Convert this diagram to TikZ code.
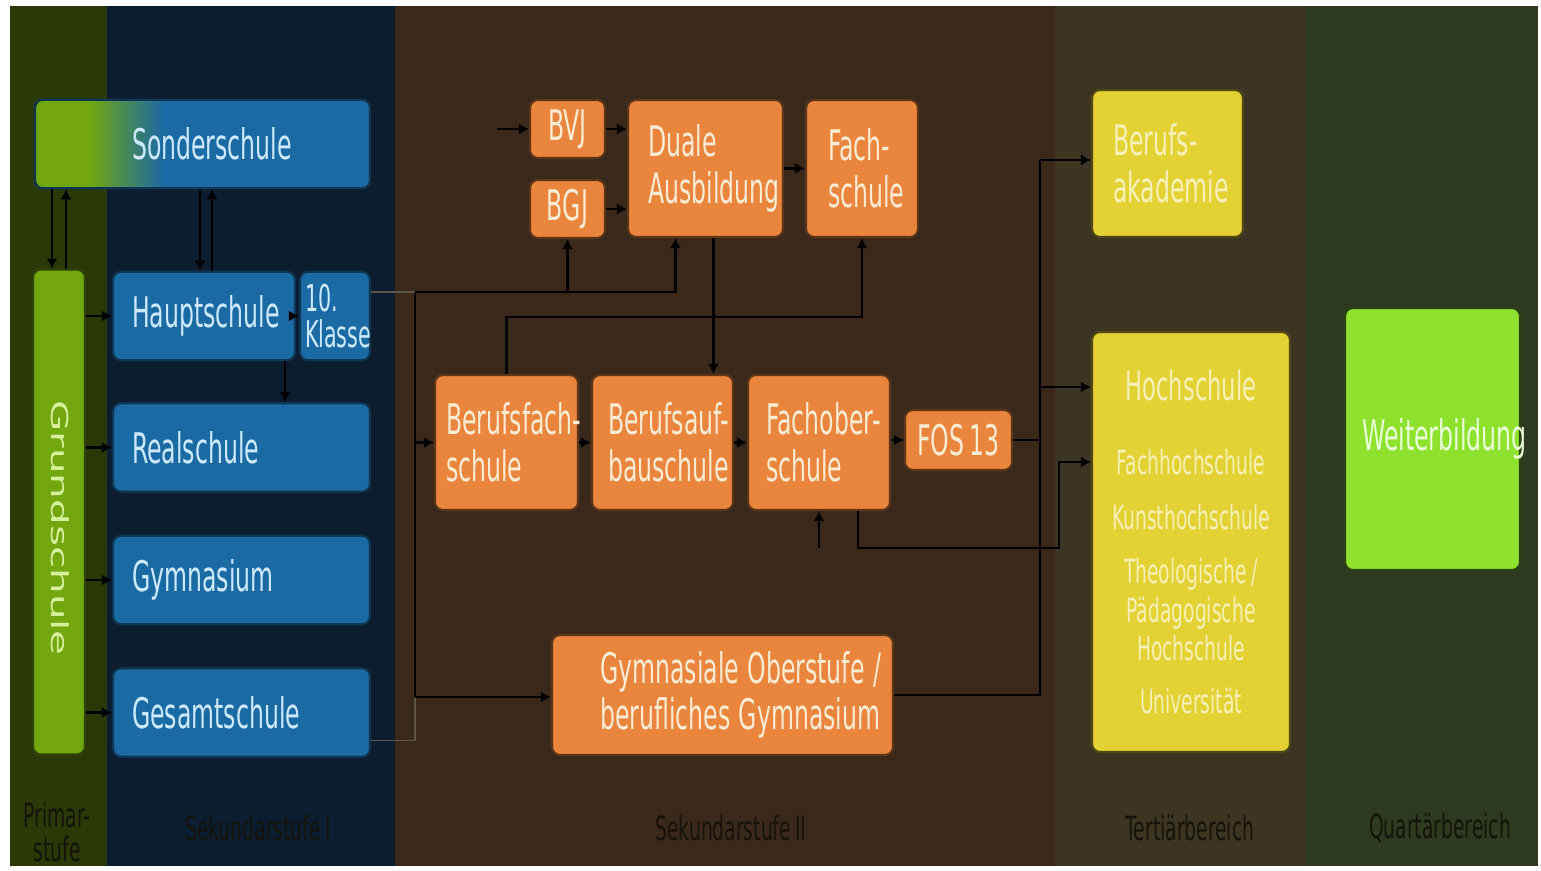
\documentclass[tikz,border=0pt]{standalone}
\usepackage{fontspec}
\setmainfont{DejaVu Sans}[FakeStretch=0.56, WordSpace=0.75]
\newfontfamily\widefont{DejaVu Sans}
\usepackage{graphicx}
\usepackage{tikz}
\usetikzlibrary{arrows.meta,positioning,calc}
\hyphenpenalty=10000
\exhyphenpenalty=10000
\definecolor{PrimBg}{HTML}{2A3906}
\definecolor{SekIBg}{HTML}{0B1D2E}
\definecolor{SekIIBg}{HTML}{3A291B}
\definecolor{TertBg}{HTML}{3C3521}
\definecolor{QuartBg}{HTML}{2E3A1F}
\definecolor{SchoolBlue}{HTML}{1C6AA3}
\definecolor{SchoolText}{HTML}{CDE9FF}
\definecolor{VocOrange}{HTML}{E9853C}
\definecolor{VocText}{HTML}{FDEBD2}
\definecolor{UniYellow}{HTML}{E4D133}
\definecolor{UniText}{HTML}{F7F0B8}
\definecolor{GrundGreen}{HTML}{72A70F}
\definecolor{GrundText}{HTML}{D8F09C}
\definecolor{FurtherGreen}{HTML}{8EE22E}
\definecolor{FurtherText}{HTML}{E9FFD8}
\definecolor{BandText}{HTML}{15130C}
\definecolor{FaintLine}{HTML}{5E5448}
\pgfdeclarehorizontalshading{sonderfade}{100bp}{color(0bp)=(GrundGreen); color(33bp)=(GrundGreen); color(44bp)=(SchoolBlue); color(100bp)=(SchoolBlue)}

\begin{document}
\begin{tikzpicture}[
  x=0.02cm, y=-0.02cm,
  font=\fontsize{24}{26.5}\selectfont,
  box/.style={rounded corners=1.6mm, inner ysep=0pt, line width=1.2pt},
  sekone/.style={box, fill=SchoolBlue, draw=SchoolBlue!50!black, text=SchoolText, align=left, inner xsep=0.38cm, minimum height=1.77cm},
  sektwo/.style={box, fill=VocOrange, draw=VocOrange!40!black, text=VocText, align=left},
  tertiary/.style={box, fill=UniYellow, draw=UniYellow!35!black, text=UniText},
  further/.style={box, fill=FurtherGreen, draw=FurtherGreen!30!black, text=FurtherText, align=left},
  bandlabel/.style={text=BandText, font=\fontsize{19}{19}\selectfont, align=center},
  arrow/.style={-{Latex[length=2mm,width=2.2mm]}, line width=1.3pt, draw=black},
  link/.style={line width=1.3pt, draw=black},
  faint/.style={line width=1pt, draw=FaintLine}
]
  \useasboundingbox (0,0) rectangle (1541,870);
  \fill[white] (0,0) rectangle (1541,870);

  % stage bands
  \fill[PrimBg] (10,6) rectangle (107,866);
  \fill[SekIBg] (107,6) rectangle (395,866);
  \fill[SekIIBg] (395,6) rectangle (1055,866);
  \fill[TertBg] (1055,6) rectangle (1305,866);
  \fill[QuartBg] (1305,6) rectangle (1538,866);

  \node[bandlabel] (lblPrim) at (57,832) {Primar-\\stufe};
  \node[bandlabel] (lblSekI) at (258,828) {Sekundarstufe I};
  \node[bandlabel] (lblSekII) at (731,828) {Sekundarstufe II};
  \node[bandlabel] (lblTert) at (1190,828) {Tertiärbereich};
  \node[bandlabel] (lblQuart) at (1440,828) {Quartärbereich};

  % Primarstufe and Sekundarstufe I
  \node[box, fill=GrundGreen, draw=GrundGreen!40!black, minimum width=1.04cm, minimum height=9.7cm] (grund) at (59,512) {};
  \node[rotate=-90, text=GrundText, font=\widefont\fontsize{23}{26}\selectfont] (grundLabel) at ($(grund)+(1,16)$) {\scalebox{1}[0.58]{Grundschule}};
  \node[sekone, shading=sonderfade, text width=5.94cm] (sonder) at (202.5,144) {\hspace*{1.56cm}Sonderschule};
  \node[sekone, text width=2.88cm] (haupt) at (204,316) {Hauptschule};
  \node[sekone, text width=1.2cm, inner xsep=0.1cm, font=\fontsize{21}{20}\selectfont] (klasse) at (335,316) {10.\\Klasse};
  \node[sekone, text width=4.38cm] (real) at (241.5,447.5) {Realschule};
  \node[sekone, text width=4.38cm] (gym) at (241.5,580) {Gymnasium};
  \node[sekone, text width=4.38cm] (gesamt) at (241.5,712.5) {Gesamtschule};

  % Sekundarstufe II
  \node[sektwo, align=center, minimum width=1.5cm, minimum height=1.16cm] (bvj) at (567.5,129) {BVJ};
  \node[sektwo, align=center, minimum width=1.5cm, minimum height=1.16cm] (bgj) at (567.5,209) {BGJ};
  \node[sektwo, text width=2.3cm, inner xsep=0.4cm, minimum height=2.74cm] (dual) at (705.5,168.5) {Duale\\Ausbildung};
  \node[sektwo, text width=1.36cm, inner xsep=0.44cm, minimum height=2.74cm] (fach) at (862,168.5) {Fach-\\schule};
  \node[sektwo, text width=2.42cm, inner xsep=0.22cm, minimum height=2.7cm] (bfs) at (506.5,442.5) {Berufsfach-\\schule};
  \node[sektwo, text width=2.18cm, inner xsep=0.32cm, minimum height=2.7cm] (bas) at (662.5,442.5) {Berufsauf-\\bauschule};
  \node[sektwo, text width=2.12cm, inner xsep=0.36cm, minimum height=2.7cm] (fos) at (819,442.5) {Fachober-\\schule};
  \node[sektwo, align=center, minimum width=2.14cm, minimum height=1.2cm] (fos13) at (958.5,440) {FOS 13};
  \node[sektwo, text width=4.9cm, inner xsep=0.96cm, minimum height=2.4cm] (gymob) at (722.5,695) {\spaceskip=0.2em\relax\mbox{Gymnasiale Oberstufe /}\\\mbox{berufliches Gymnasium}};

  % Tertiaer- und Quartaerbereich
  \node[tertiary, align=left, text width=2.18cm, inner xsep=0.42cm, minimum height=2.94cm] (ba) at (1167.5,163.5) {Berufs-\\akademie};
  \node[tertiary, align=center, minimum width=3.96cm, minimum height=8.4cm, font=\fontsize{19}{22}\selectfont] (hs) at (1191,542) {{\fontsize{23}{26}\selectfont Hochschule}\\[20pt]Fachhochschule\\[9pt]Kunsthochschule\\[9pt]Theologische /\\Pädagogische\\Hochschule\\[8pt]Universität};
  \node[further, text width=2.82cm, inner xsep=0.34cm, minimum height=5.24cm] (wb) at (1432.5,439) {Weiterbildung};

  % Sekundarstufe I links
  \draw[arrow] ($(grund.north |- sonder.south)+(-7,0)$) -- ($(grund.north)+(-7,0)$);
  \draw[arrow] ($(grund.north)+(7,0)$) -- ($(grund.north |- sonder.south)+(7,0)$);
  \draw[arrow] ($(haupt.north |- sonder.south)+(-4,0)$) -- ($(haupt.north)+(-4,0)$);
  \draw[arrow] ($(haupt.north)+(8,0)$) -- ($(haupt.north |- sonder.south)+(8,0)$);
  \foreach \s in {haupt,real,gym,gesamt}
    \draw[arrow] (\s.west -| grund.east) -- (\s.west);
  \draw[arrow] (haupt) -- (klasse);
  \draw[arrow] ($(haupt.south east)+(-11,0)$) -- ($(haupt.south east |- real.north)+(-11,0)$);

  % into Sekundarstufe II
  \coordinate (collTop) at (415,292);
  \coordinate (collBot) at (415,697);
  \coordinate (bvjIn) at (497,129);
  \draw[faint] (klasse.east |- collTop) -- (collTop);
  \draw[faint] ($(gesamt.east)+(0,28)$) -| (collBot);
  \draw[link] (collTop) -- (collBot);
  \draw[arrow] (bfs.west -| collTop) -- (bfs.west);
  \draw[arrow] (collBot) -- (collBot -| gymob.west);
  \draw[arrow] (collTop) -| ($(dual.south)+(-30,0)$);
  \draw[arrow] (bgj.south |- collTop) -- (bgj.south);
  \draw[arrow] (bfs.north) -- ++(0,-57) -| (fach.south);
  \draw[arrow] ($(dual.south)+(8,0)$) -- ($(dual.south |- bas.north)+(8,0)$);
  \draw[arrow] (bvjIn) -- (bvj.west);
  \draw[arrow] (bvj.east) -- (bvj.east -| dual.west);
  \draw[arrow] (bgj.east) -- (bgj.east -| dual.west);
  \draw[arrow] (dual) -- (fach);
  \draw[arrow] (bfs) -- (bas);
  \draw[arrow] (bas) -- (fos);
  \draw[arrow] (fos.east |- fos13) -- (fos13.west);

  % into Tertiaerbereich
  \coordinate (railTop) at (1040,160);
  \coordinate (hsIn) at ($(hs.north west)+(0,56)$);
  \coordinate (fhIn) at ($(hs.north west)+(0,131)$);
  \draw[link] (gymob.east) -| (railTop);
  \draw[link] (fos13.east) -- (fos13.east -| railTop);
  \draw[arrow] (railTop) -- (railTop -| ba.west);
  \draw[arrow] (hsIn -| railTop) -- (hsIn);
  \draw[arrow] ($(fos.south east)+(-33,0)$) -- ++(0,37) -| ($(fhIn)+(-32,0)$) -- (fhIn);
  \draw[arrow] ($(fos.south)+(0,37)$) -- (fos.south);
\end{tikzpicture}
\end{document}
